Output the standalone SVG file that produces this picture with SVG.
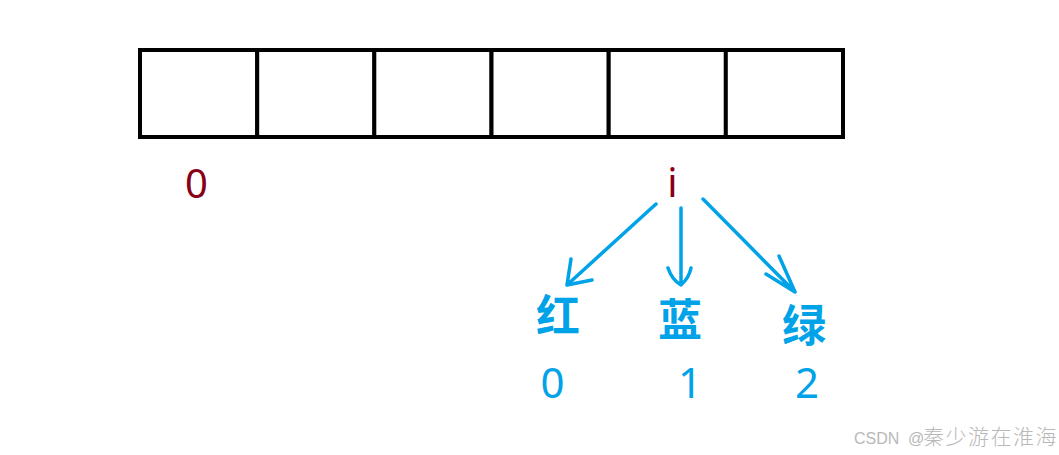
<svg xmlns="http://www.w3.org/2000/svg" width="1059" height="455" viewBox="0 0 1059 455">
<style>
.cell{fill:#fff;stroke:#000;stroke-width:4}
.red{fill:#880015;font-family:"Noto Sans","Open Sans",sans-serif;font-size:40px}
.cjk{fill:#00A2E8;font-family:"Noto Sans CJK SC",sans-serif;font-size:44px;font-weight:bold}
.num{fill:#00A2E8;font-family:"Noto Sans","Open Sans",sans-serif;font-size:42px}
.arr{fill:none;stroke:#00A2E8;stroke-width:3.5;stroke-linecap:round;stroke-linejoin:round}
.wm{fill:#b8b8b8;font-family:"Liberation Sans","Noto Sans CJK SC",sans-serif;font-size:16px}
.wmc{font-family:"Noto Sans CJK SC",sans-serif;font-size:21px;font-weight:300}
</style>
<rect width="1059" height="455" fill="#fff"/>
<g id="array">
<rect class="cell" x="140" y="50" width="117.2" height="87"/>
<rect class="cell" x="257.2" y="50" width="117.2" height="87"/>
<rect class="cell" x="374.3" y="50" width="117.2" height="87"/>
<rect class="cell" x="491.5" y="50" width="117.2" height="87"/>
<rect class="cell" x="608.7" y="50" width="117.2" height="87"/>
<rect class="cell" x="725.8" y="50" width="117.2" height="87"/>
</g>
<g id="label-0"><text class="red" x="196.5" y="198" text-anchor="middle">0</text></g>
<g id="label-i"><text class="red" x="672.5" y="197" text-anchor="middle">i</text></g>
<g id="connectors">
<path class="arr" d="M656,204 L567,285 M571,259 L567,285 L592,280"/>
<path class="arr" d="M681,208 L681,285 M668,268 Q672,280 681,285 Q689,278 691,268"/>
<path class="arr" d="M703,199 L795,292 M779,256 L795,292 L766,274"/>
</g>
<g id="red-node"><text class="cjk" x="558" y="332" text-anchor="middle">红</text><text class="num" x="552.5" y="398" text-anchor="middle">0</text></g>
<g id="blue-node"><text class="cjk" x="680" y="336" text-anchor="middle">蓝</text><text class="num" x="690" y="398" text-anchor="middle">1</text></g>
<g id="green-node"><text class="cjk" x="804" y="342" text-anchor="middle">绿</text><text class="num" x="807" y="398" text-anchor="middle">2</text></g>
<text class="wm" y="444"><tspan x="854">CSDN</tspan><tspan x="908">@</tspan><tspan class="wmc" x="923" letter-spacing="1.5">秦少游在淮海</tspan></text>
</svg>
